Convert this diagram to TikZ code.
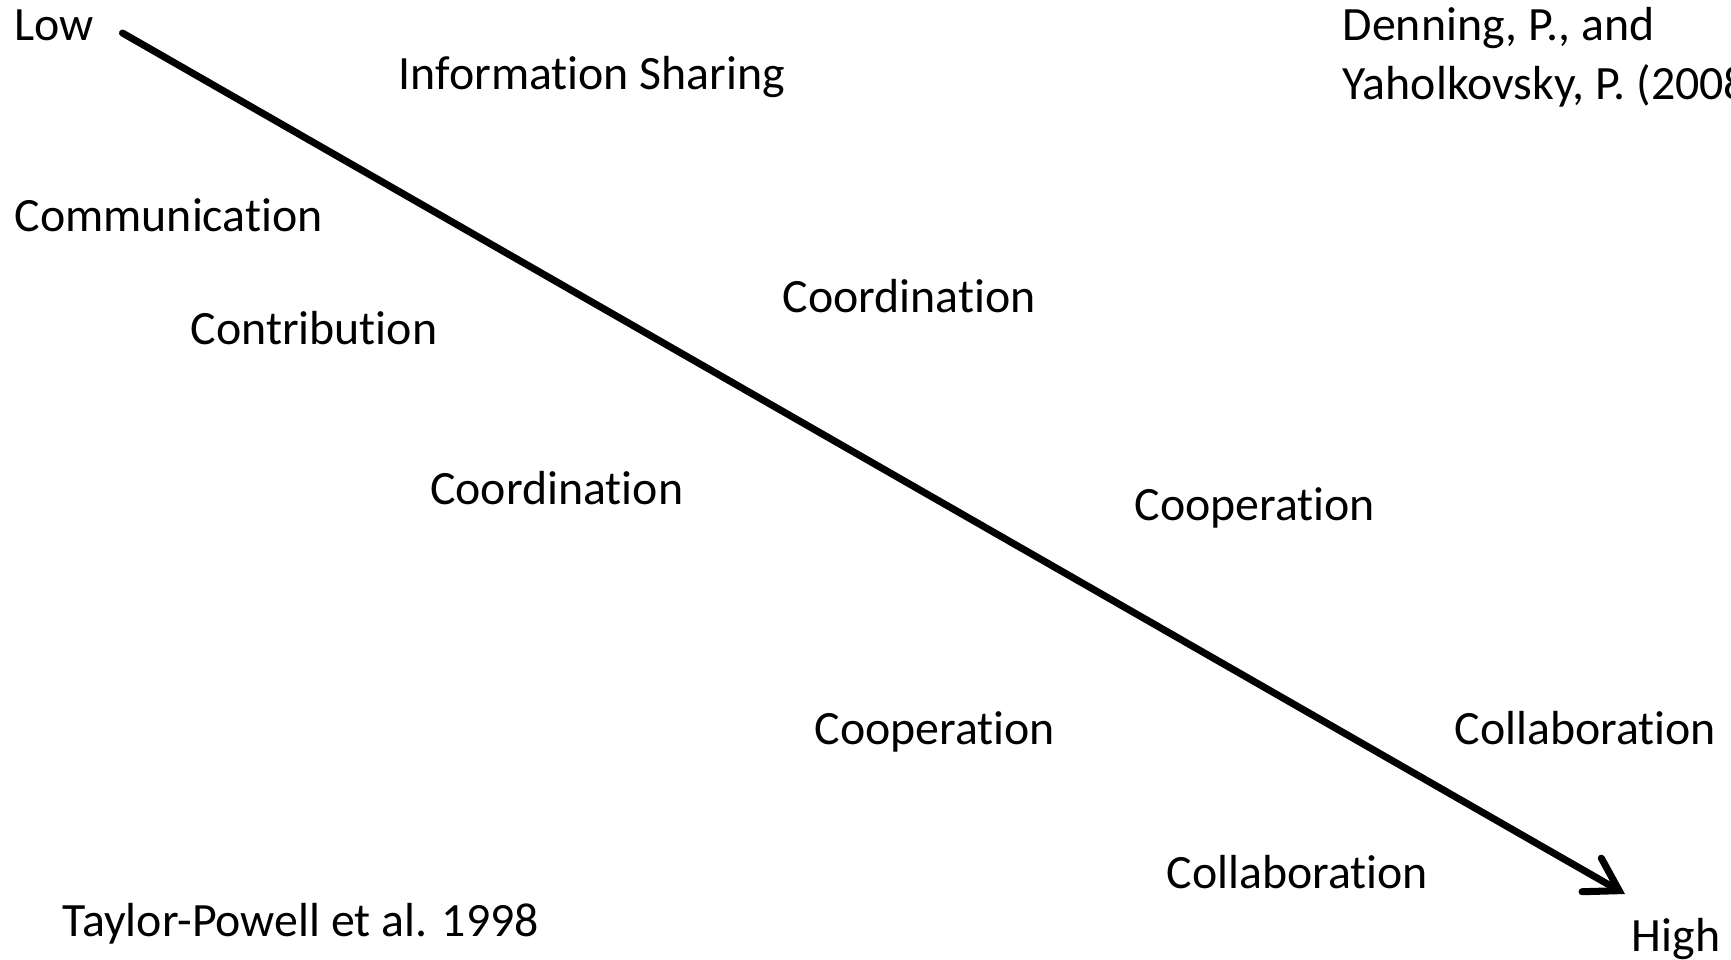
\documentclass[tikz,border=0pt]{standalone}
\usepackage{fontspec}
\setmainfont{Carlito}[Ligatures=NoCommon]
\usetikzlibrary{arrows.meta}
\tikzset{lbl/.style={anchor=base west,inner sep=0pt,font=\fontsize{13.6}{16.6}\selectfont}}
\begin{document}
\begin{tikzpicture}[x=0.01cm,y=-0.01cm]
	\useasboundingbox (0,0) rectangle (1731,959);
	\clip (0,0) rectangle (1731,959);
	\node[lbl] (low) at (14,40.8) {Low};
	\node[lbl] (high) at (1631,951) {High};
	\node[lbl] (info) at (398,89) {Information Sharing};
	\node[lbl] (denning) at (1342,40.8) {Denning, P., and};
	\node[lbl] (yahol) at (1342,99.4) {Yaholkovsky, P. (2008)};
	\node[lbl] (comm) at (14,231.8) {Communication};
	\node[lbl] (contrib) at (190,344) {Contribution};
	\node[lbl] (coordA) at (782,312) {Coordination};
	\node[lbl] (coordB) at (429.5,504) {Coordination};
	\node[lbl] (coopA) at (1134,520) {Cooperation};
	\node[lbl] (coopB) at (814,744) {Cooperation};
	\node[lbl] (collabA) at (1454,744) {Collaboration};
	\node[lbl] (collabB) at (1166,888.5) {Collaboration};
	\node[lbl] (taylor) at (62,936) {Taylor-Powell et al. 1998};
	\coordinate (start) at (122.5,33);
	\coordinate (end) at (1625,894);
	\draw[line width=2pt,line cap=round,-{Straight Barb[length=9pt,width=11pt,line cap=round]}] (start) -- (end);
\end{tikzpicture}
\end{document}
